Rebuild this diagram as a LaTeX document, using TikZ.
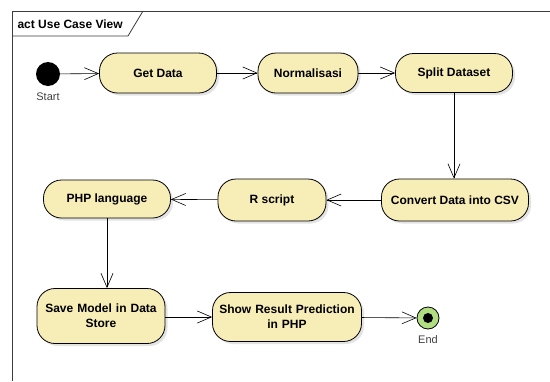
\documentclass[tikz,border=0pt]{standalone}
\usepackage{fontspec}
\setmainfont{Liberation Sans}
\usepackage{tikz}
\usetikzlibrary{positioning, arrows.meta, shadows}
\definecolor{actFill}{RGB}{246,237,183}
\definecolor{endFill}{RGB}{178,222,130}
\definecolor{frameLine}{RGB}{60,60,60}
\tikzstyle{actionNode}=[draw, thick, fill=actFill, rectangle, rounded corners=18pt, align=center,
  font=\fontsize{12}{15}\selectfont\bfseries, inner sep=2pt,
  drop shadow={shadow xshift=2.5pt, shadow yshift=-2.5pt, fill=black!22}]
\tikzstyle{flowTransition}=[-{Straight Barb[length=14pt, width=12pt]}, semithick]
\tikzstyle{stateLabel}=[font=\fontsize{11}{13}\selectfont, text=black!75]

\begin{document}
\begin{tikzpicture}[x=1pt, y=-1pt]

    \useasboundingbox (0,0) rectangle (550,381);

    % frame

    \draw[frameLine, thick] (12,381) -- (12,11) -- (551,11);
    \draw[frameLine, thick] (12,36) -- (128,36) -- (143,11);
    \node[anchor=west, font=\fontsize{12}{14}\selectfont\bfseries] (title) at (14,24) {act Use Case View};

    % nodes

    \node[circle, fill=black, minimum size=24pt, inner sep=0pt] (start) at (48,74) {};
    \node[stateLabel, below=3pt of start] (startLabel) {Start};

    \node[actionNode, minimum width=117pt, minimum height=40pt] (getData) at (158,73) {Get Data};
    \node[actionNode, minimum width=100pt, minimum height=40pt] (normalisasi) at (308,73) {Normalisasi};
    \node[actionNode, minimum width=117pt, minimum height=39pt] (splitDataset) at (454,73) {Split Dataset};

    \node[actionNode, minimum width=147pt, minimum height=42pt] (convertCsv) at (455,200) {Convert Data into CSV};
    \node[actionNode, minimum width=108pt, minimum height=42pt] (rScript) at (272,200) {R script};
    \node[actionNode, minimum width=127pt, minimum height=38pt] (phpLanguage) at (107,199) {PHP language};

    \node[actionNode, minimum width=128pt, minimum height=55pt, text width=124pt] (saveModel) at (101,316) {Save Model in Data\\Store};
    \node[actionNode, minimum width=149pt, minimum height=49pt, text width=145pt] (showResult) at (287,317) {Show Result Prediction\\in PHP};

    \node[circle, draw, thick, fill=endFill, minimum size=22pt, inner sep=0pt] (end) at (428,318) {};
    \fill (end) circle (5pt);
    \node[stateLabel, below=3pt of end] (endLabel) {End};

    % transitions

    \draw[flowTransition] (start) -- (getData);
    \draw[flowTransition] (getData) -- (normalisasi);
    \draw[flowTransition] (normalisasi) -- (splitDataset);
    \draw[flowTransition] (splitDataset.south) -- (splitDataset.south |- convertCsv.north);
    \draw[flowTransition] (convertCsv) -- (rScript);
    \draw[flowTransition] (rScript) -- (phpLanguage);
    \draw[flowTransition] (phpLanguage.south) -- (phpLanguage.south |- saveModel.north);
    \draw[flowTransition] (saveModel.east |- showResult.west) -- (showResult.west);
    \draw[flowTransition] (showResult) -- (end);

\end{tikzpicture}
\end{document}
